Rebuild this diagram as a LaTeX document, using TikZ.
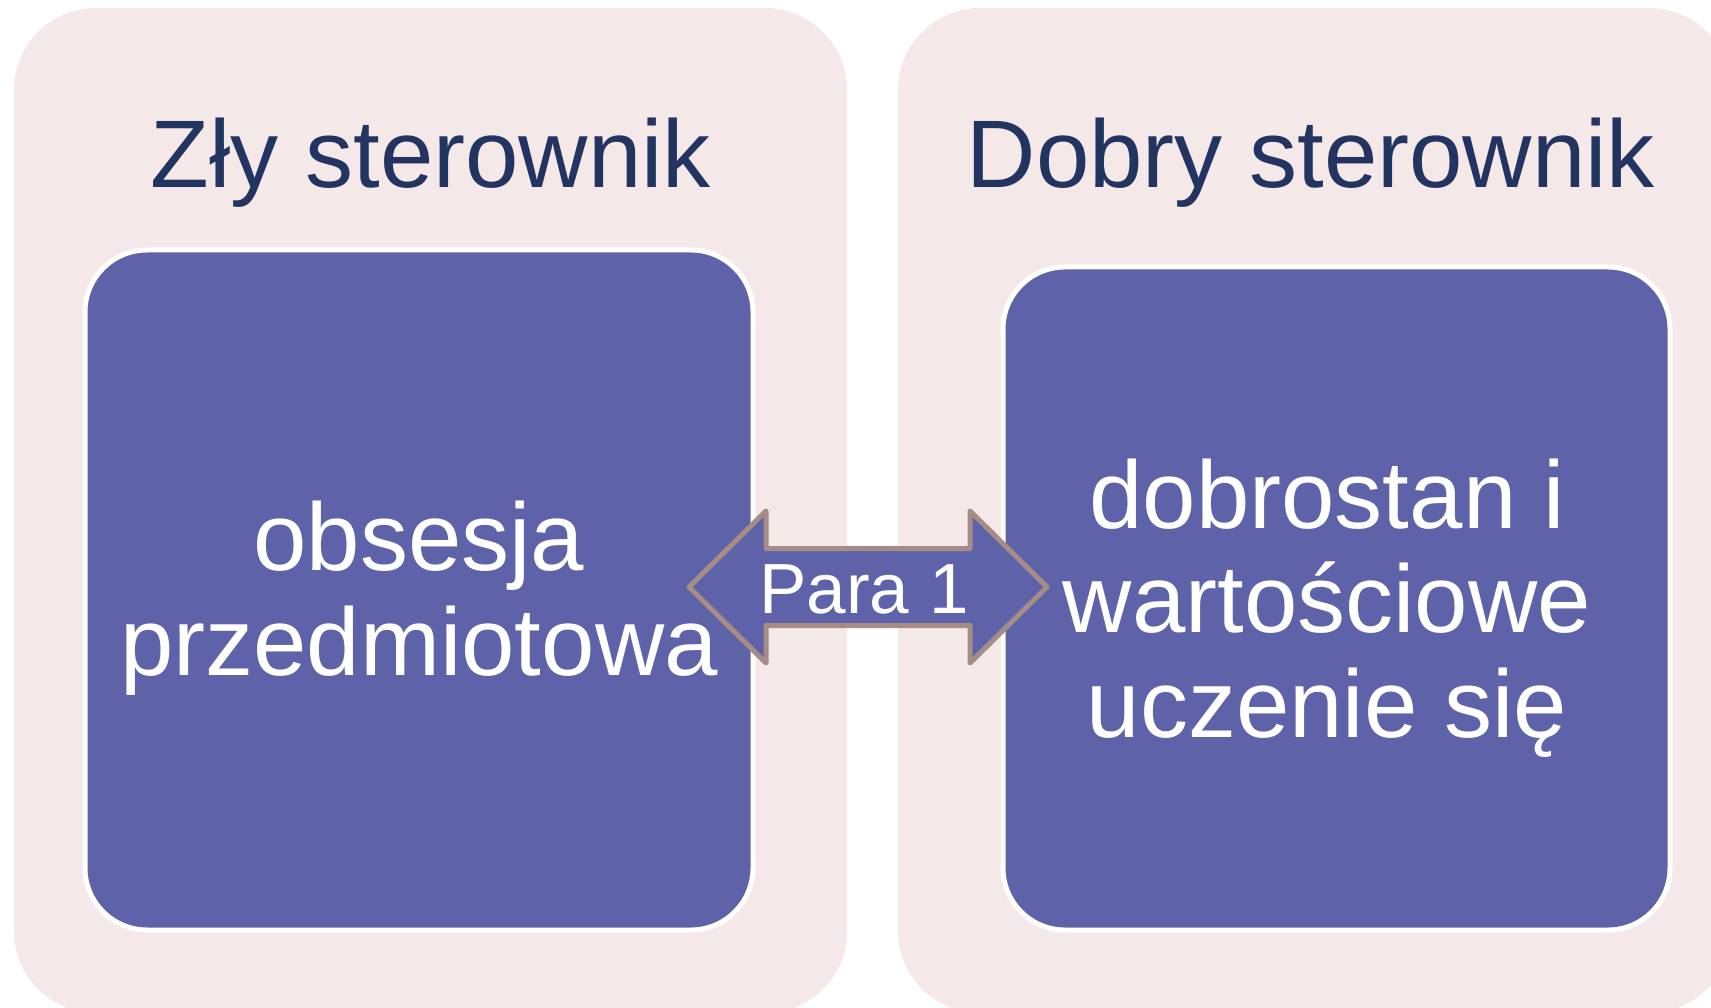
\documentclass[tikz,border=0pt]{standalone}
\usepackage{fontspec}
\setmainfont{Liberation Sans}
\definecolor{panelfill}{RGB}{245,232,232}
\definecolor{boxfill}{RGB}{94,99,169}
\definecolor{titlecol}{RGB}{35,52,96}
\definecolor{arrowline}{RGB}{166,140,134}
\begin{document}
\begin{tikzpicture}[x=1pt,y=-1pt,
  panel/.style={fill=panelfill,draw=none,rounded corners=82pt},
  innerbox/.style={fill=boxfill,draw=white,line width=5pt,rounded corners=62pt},
  titletext/.style={text=titlecol,font=\fontsize{96}{104}\selectfont,inner sep=0pt,anchor=base},
  bodytext/.style={text=white,font=\fontsize{96}{104.5}\selectfont,align=center,inner sep=0pt},
  arrowshape/.style={fill=boxfill,draw=arrowline,line width=5pt,line join=round},
  arrowtext/.style={text=white,font=\fontsize{71}{80}\selectfont,inner sep=0pt,anchor=base}]
\useasboundingbox (0,0) rectangle (1711,1008);
\fill[white] (0,0) rectangle (1711,1008);
% panels
\path[panel] (14,8) rectangle (847,1013);
\path[panel] (898,8) rectangle (1731,1013);
% titles
\node[titletext] (t1) at (431,188) {Zły sterownik};
\node[titletext] (t2) at (1311,188) {Dobry sterownik};
% inner boxes
\draw[innerbox] (85,250) rectangle (753,930);
\draw[innerbox] (1003,267) rectangle (1670,930);
\node[bodytext] (b1) at (419,598) {obsesja\\przedmiotowa};
\node[bodytext] (b2) at (1327,608) {dobrostan i\\wartościowe\\uczenie się};
% double arrow
\coordinate (ac) at (868,587);
\draw[arrowshape] ([xshift=-179pt]ac) -- ([xshift=-102pt,yshift=-76pt]ac) -- ([xshift=-102pt,yshift=-38.5pt]ac)
  -- ([xshift=102pt,yshift=-38.5pt]ac) -- ([xshift=102pt,yshift=-76pt]ac) -- ([xshift=179pt]ac)
  -- ([xshift=102pt,yshift=76pt]ac) -- ([xshift=102pt,yshift=38.5pt]ac) -- ([xshift=-102pt,yshift=38.5pt]ac)
  -- ([xshift=-102pt,yshift=76pt]ac) -- cycle;
\node[arrowtext] (pl) at (864,613) {Para 1};
\end{tikzpicture}
\end{document}
